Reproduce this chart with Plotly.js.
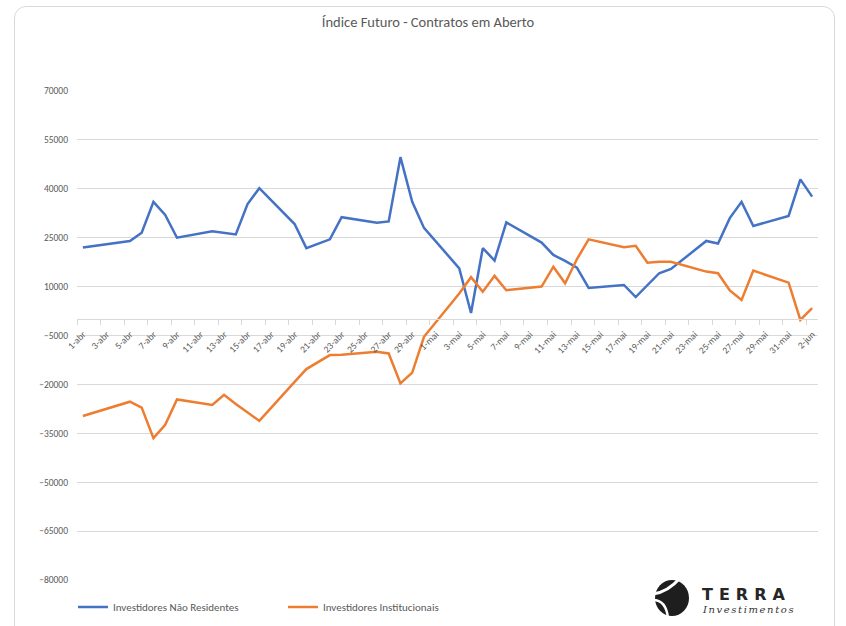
<!DOCTYPE html>
<html>
<head>
<meta charset="utf-8">
<script src="https://cdn.plot.ly/plotly-3.0.1.min.js"></script>
<style>
  html, body { margin: 0; padding: 0; background: #ffffff; overflow: hidden; }
  #frame { position: absolute; left: 14px; top: 6px; width: 821px; height: 640px;
           border: 1px solid #d9d9d9; border-radius: 12px; box-sizing: border-box; background: #fff; }
  #chart { position: absolute; left: 0; top: 0; width: 846px; height: 626px; }
</style>
</head>
<body>
<div id="frame"></div>
<div id="chart"></div>
<script>
// ---- data (2021 trading days) ----
const dates = [
  '2021-04-01','2021-04-05','2021-04-06','2021-04-07','2021-04-08','2021-04-09',
  '2021-04-12','2021-04-13','2021-04-14','2021-04-15','2021-04-16',
  '2021-04-19','2021-04-20','2021-04-22','2021-04-23',
  '2021-04-26','2021-04-27','2021-04-28','2021-04-29','2021-04-30',
  '2021-05-03','2021-05-04','2021-05-05','2021-05-06','2021-05-07',
  '2021-05-10','2021-05-11','2021-05-12','2021-05-13','2021-05-14',
  '2021-05-17','2021-05-18','2021-05-19','2021-05-20','2021-05-21',
  '2021-05-24','2021-05-25','2021-05-26','2021-05-27','2021-05-28',
  '2021-05-31','2021-06-01','2021-06-02'
];
const naoResidentes = [
  22000, 24000, 26500, 36000, 32000, 25000,
  27000, 26600, 26000, 35300, 40200,
  29200, 21800, 24500, 31300,
  29600, 30000, 49700, 36000, 28000,
  15600, 1900, 21800, 18000, 29700,
  23500, 19700, 17900, 15800, 9600,
  10500, 6800, 10500, 14100, 15400,
  24000, 23200, 31000, 36000, 28600,
  31700, 42900, 37600
];
const institucionais = [
  -29700, -25300, -27100, -36500, -32400, -24600,
  -26300, -23200, -26000, -28600, -31200,
  -19200, -15300, -11000, -10900,
  -10000, -10500, -19700, -16400, -5400,
  7900, 12900, 8400, 13300, 8900,
  10000, 16100, 11000, 18400, 24500,
  22100, 22500, 17300, 17600, 17600,
  14600, 14100, 8800, 5900, 14900,
  11200, -200, 3400
];
const seriesNames = ['Investidores Não Residentes', 'Investidores Institucionais'];
const tickLabels = [
  '1-abr','3-abr','5-abr','7-abr','9-abr','11-abr','13-abr','15-abr','17-abr','19-abr',
  '21-abr','23-abr','25-abr','27-abr','29-abr','1-mai','3-mai','5-mai','7-mai','9-mai',
  '11-mai','13-mai','15-mai','17-mai','19-mai','21-mai','23-mai','25-mai','27-mai','29-mai',
  '31-mai','2-jun'
];
const yMin = -80000, yMax = 70000, yStep = 15000;

// ---- helpers ----
const monthNum = { abr: '04', mai: '05', jun: '06' };
const tickVals = tickLabels.map(t => {
  const [d, m] = t.split('-');
  return '2021-' + monthNum[m] + '-' + String(d).padStart(2, '0');
});
// place each daily point in the middle of its day slot (Excel date axis style)
const xMid = dates.map(d => d + ' 12:00');

const FONT = "Carlito, Calibri, 'Liberation Sans Narrow', 'Open Sans', sans-serif";
const GREY = '#595959';
const GRID = '#d9d9d9';

const traces = [
  { x: xMid, y: naoResidentes, name: seriesNames[0], type: 'scatter', mode: 'lines',
    line: { color: '#4472C4', width: 2.5 } },
  { x: xMid, y: institucionais, name: seriesNames[1], type: 'scatter', mode: 'lines',
    line: { color: '#ED7D31', width: 2.5 } }
];

const zeroPos = (0 - yMin) / (yMax - yMin);

// plot-area geometry (pixels) and paper conversion
const L = 77, R = 818, T = 91, B = 580;
const px = v => (v - L) / (R - L);
const py = v => (B - v) / (B - T);

const layout = {
  width: 846, height: 626,
  paper_bgcolor: 'rgba(0,0,0,0)',
  plot_bgcolor: 'rgba(0,0,0,0)',
  margin: { l: L, r: 846 - R, t: T, b: 626 - B, autoexpand: false },
  font: { family: FONT, color: GREY },
  title: { text: 'Índice Futuro - Contratos em Aberto', font: { size: 14.5, color: GREY, family: FONT },
           x: 428 / 846, xref: 'container', xanchor: 'center', y: 1 - 22 / 626, yref: 'container', yanchor: 'middle' },
  xaxis: {
    type: 'date',
    range: ['2021-04-01', '2021-06-03'],
    anchor: 'free', position: zeroPos,
    showline: true, linecolor: GRID, linewidth: 1,
    ticks: 'outside', ticklen: 5, tickcolor: GRID, tickwidth: 1,
    tickvals: tickVals, ticktext: tickLabels,
    tickangle: -45, ticklabelshift: 6,
    tickfont: { size: 9.5, color: GREY, family: FONT },
    showgrid: false, zeroline: false, fixedrange: true
  },
  yaxis: {
    range: [yMin, yMax], tick0: yMin, dtick: yStep, tickformat: 'd',
    showgrid: true, gridcolor: GRID, gridwidth: 1,
    zeroline: false, showline: false, ticks: '',
    ticklabelstandoff: 8,
    tickfont: { size: 9.5, color: GREY, family: FONT }, fixedrange: true
  },
  showlegend: true,
  legend: {
    orientation: 'h', x: px(73), xanchor: 'left', y: py(607), yanchor: 'middle',
    font: { size: 11, color: GREY, family: FONT },
    entrywidth: 165, entrywidthmode: 'pixels', bgcolor: 'rgba(0,0,0,0)'
  },
  shapes: [
    { type: 'rect', xref: 'paper', yref: 'paper', x0: px(642), x1: px(795), y0: py(574), y1: py(622),
      fillcolor: '#ffffff', line: { width: 0 }, layer: 'above' },
    { type: 'circle', xref: 'paper', yref: 'paper', xsizemode: 'pixel', ysizemode: 'pixel',
      xanchor: px(672), yanchor: py(598), x0: -17, x1: 17, y0: -18, y1: 18,
      fillcolor: '#1e1e1e', line: { width: 0 }, layer: 'above' },
    { type: 'path', xref: 'paper', yref: 'paper', xsizemode: 'pixel', ysizemode: 'pixel',
      xanchor: px(672), yanchor: py(598),
      path: 'M -19 4 Q -4 6 8 20', line: { color: '#ffffff', width: 3 }, layer: 'above' },
    { type: 'path', xref: 'paper', yref: 'paper', xsizemode: 'pixel', ysizemode: 'pixel',
      xanchor: px(672), yanchor: py(598),
      path: 'M -19 -2 Q -6 -2 -4 -20', line: { color: '#ffffff', width: 2.5 }, layer: 'above' }
  ],
  annotations: [
    { text: '<b><span style="letter-spacing:6px">TERRA</span></b>', xref: 'paper', yref: 'paper',
      x: px(700), y: py(594), xanchor: 'left', yanchor: 'middle', showarrow: false,
      font: { size: 16, color: '#262626', family: "'DejaVu Sans', sans-serif" } },
    { text: '<i><span style="letter-spacing:1.6px">Investimentos</span></i>', xref: 'paper', yref: 'paper',
      x: px(700), y: py(609), xanchor: 'left', yanchor: 'middle', showarrow: false,
      font: { size: 10, color: '#333333', family: "'DejaVu Serif', serif" } }
  ]
};

Plotly.newPlot('chart', traces, layout, { displayModeBar: false, staticPlot: true });
</script>
</body>
</html>
